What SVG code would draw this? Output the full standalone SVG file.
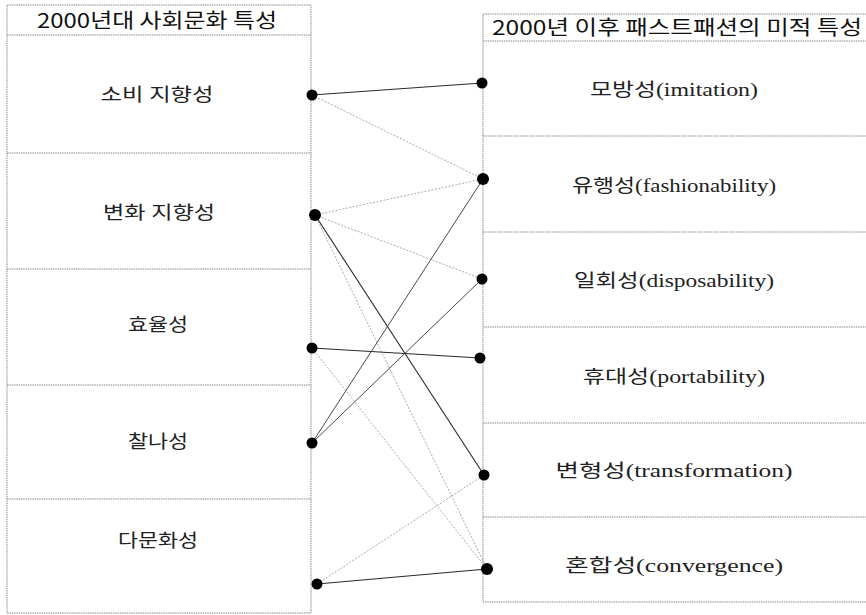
<svg xmlns="http://www.w3.org/2000/svg" width="866" height="615" viewBox="0 0 866 615">
<style>
.box{fill:none;stroke:#8a8a8a;stroke-width:1;stroke-dasharray:1.5 0.8}
.div{stroke:#8a8a8a;stroke-width:1;stroke-dasharray:1.5 0.8}
.hdr{font-family:"Noto Sans CJK KR","Noto Sans",sans-serif;font-size:20px;font-weight:400;fill:#111}
.lbl{font-family:"Liberation Serif","Noto Sans CJK KR",serif;font-size:18px;fill:#222;text-anchor:middle}
.dark{stroke:#2a2a2a;stroke-width:1.1;fill:none}
.mid{stroke:#4a4a4a;stroke-width:1;fill:none}
.light{stroke:#aaa;stroke-width:1;stroke-dasharray:2 1.5;fill:none}
.dot{fill:#000}
</style>
<rect width="866" height="615" fill="#fff"/>
<g id="left-column">
  <rect class="box" x="7" y="5" width="304" height="608"/>
  <line class="div" x1="7" y1="35" x2="311" y2="35"/>
  <line class="div" x1="7" y1="153" x2="311" y2="153"/>
  <line class="div" x1="7" y1="269" x2="311" y2="269"/>
  <line class="div" x1="7" y1="385" x2="311" y2="385"/>
  <line class="div" x1="7" y1="499" x2="311" y2="499"/>
  <text class="hdr" x="37" y="28" textLength="240" lengthAdjust="spacingAndGlyphs">2000년대 사회문화 특성</text>
</g>
<g id="right-column">
  <rect class="box" x="483" y="14" width="400" height="588"/>
  <line class="div" x1="483" y1="41" x2="866" y2="41"/>
  <line class="div" x1="483" y1="136" x2="866" y2="136"/>
  <line class="div" x1="483" y1="232" x2="866" y2="232"/>
  <line class="div" x1="483" y1="327" x2="866" y2="327"/>
  <line class="div" x1="483" y1="423" x2="866" y2="423"/>
  <line class="div" x1="483" y1="517" x2="866" y2="517"/>
  <text class="hdr" x="492" y="35" textLength="370" lengthAdjust="spacingAndGlyphs">2000년 이후 패스트패션의 미적 특성</text>
</g>
<g id="L1"><text class="lbl" x="157" y="101" textLength="113" lengthAdjust="spacingAndGlyphs">소비 지향성</text></g>
<g id="L2"><text class="lbl" x="159" y="219" textLength="112" lengthAdjust="spacingAndGlyphs">변화 지향성</text></g>
<g id="L3"><text class="lbl" x="158" y="331" textLength="60" lengthAdjust="spacingAndGlyphs">효율성</text></g>
<g id="L4"><text class="lbl" x="158" y="448" textLength="60" lengthAdjust="spacingAndGlyphs">찰나성</text></g>
<g id="L5"><text class="lbl" x="158" y="547" textLength="80" lengthAdjust="spacingAndGlyphs">다문화성</text></g>
<g id="R1"><text class="lbl" x="674" y="96" textLength="168" lengthAdjust="spacingAndGlyphs">모방성(imitation)</text></g>
<g id="R2"><text class="lbl" x="674" y="192" textLength="204" lengthAdjust="spacingAndGlyphs">유행성(fashionability)</text></g>
<g id="R3"><text class="lbl" x="674" y="287" textLength="200" lengthAdjust="spacingAndGlyphs">일회성(disposability)</text></g>
<g id="R4"><text class="lbl" x="674" y="383" textLength="182" lengthAdjust="spacingAndGlyphs">휴대성(portability)</text></g>
<g id="R5"><text class="lbl" x="674" y="477" textLength="237" lengthAdjust="spacingAndGlyphs">변형성(transformation)</text></g>
<g id="R6"><text class="lbl" x="674" y="572" textLength="218" lengthAdjust="spacingAndGlyphs">혼합성(convergence)</text></g>
<g id="connectors">
  <line class="light" x1="312" y1="95" x2="483" y2="179"/>
  <line class="light" x1="315" y1="215" x2="483" y2="179"/>
  <line class="light" x1="315" y1="215" x2="482" y2="279"/>
  <line class="light" x1="315" y1="215" x2="487" y2="569"/>
  <line class="light" x1="312" y1="348" x2="487" y2="569"/>
  <line class="light" x1="317" y1="584" x2="484" y2="475"/>
  <line class="dark" x1="312" y1="95" x2="482" y2="83"/>
  <line class="dark" x1="315" y1="215" x2="484" y2="475"/>
  <line class="dark" x1="312" y1="348" x2="480" y2="358"/>
  <line class="mid" x1="312" y1="443" x2="483" y2="179"/>
  <line class="mid" x1="312" y1="443" x2="482" y2="279"/>
  <line class="dark" x1="317" y1="584" x2="487" y2="569"/>
  <circle class="dot" cx="312" cy="95" r="5.5"/>
  <circle class="dot" cx="315" cy="215" r="6"/>
  <circle class="dot" cx="312" cy="348" r="5.5"/>
  <circle class="dot" cx="312" cy="443" r="5.5"/>
  <circle class="dot" cx="317" cy="584" r="5.5"/>
  <circle class="dot" cx="482" cy="83" r="5.5"/>
  <circle class="dot" cx="483" cy="179" r="6"/>
  <circle class="dot" cx="482" cy="279" r="5.5"/>
  <circle class="dot" cx="480" cy="358" r="5.5"/>
  <circle class="dot" cx="484" cy="475" r="5.5"/>
  <circle class="dot" cx="487" cy="569" r="6"/>
</g>
</svg>
